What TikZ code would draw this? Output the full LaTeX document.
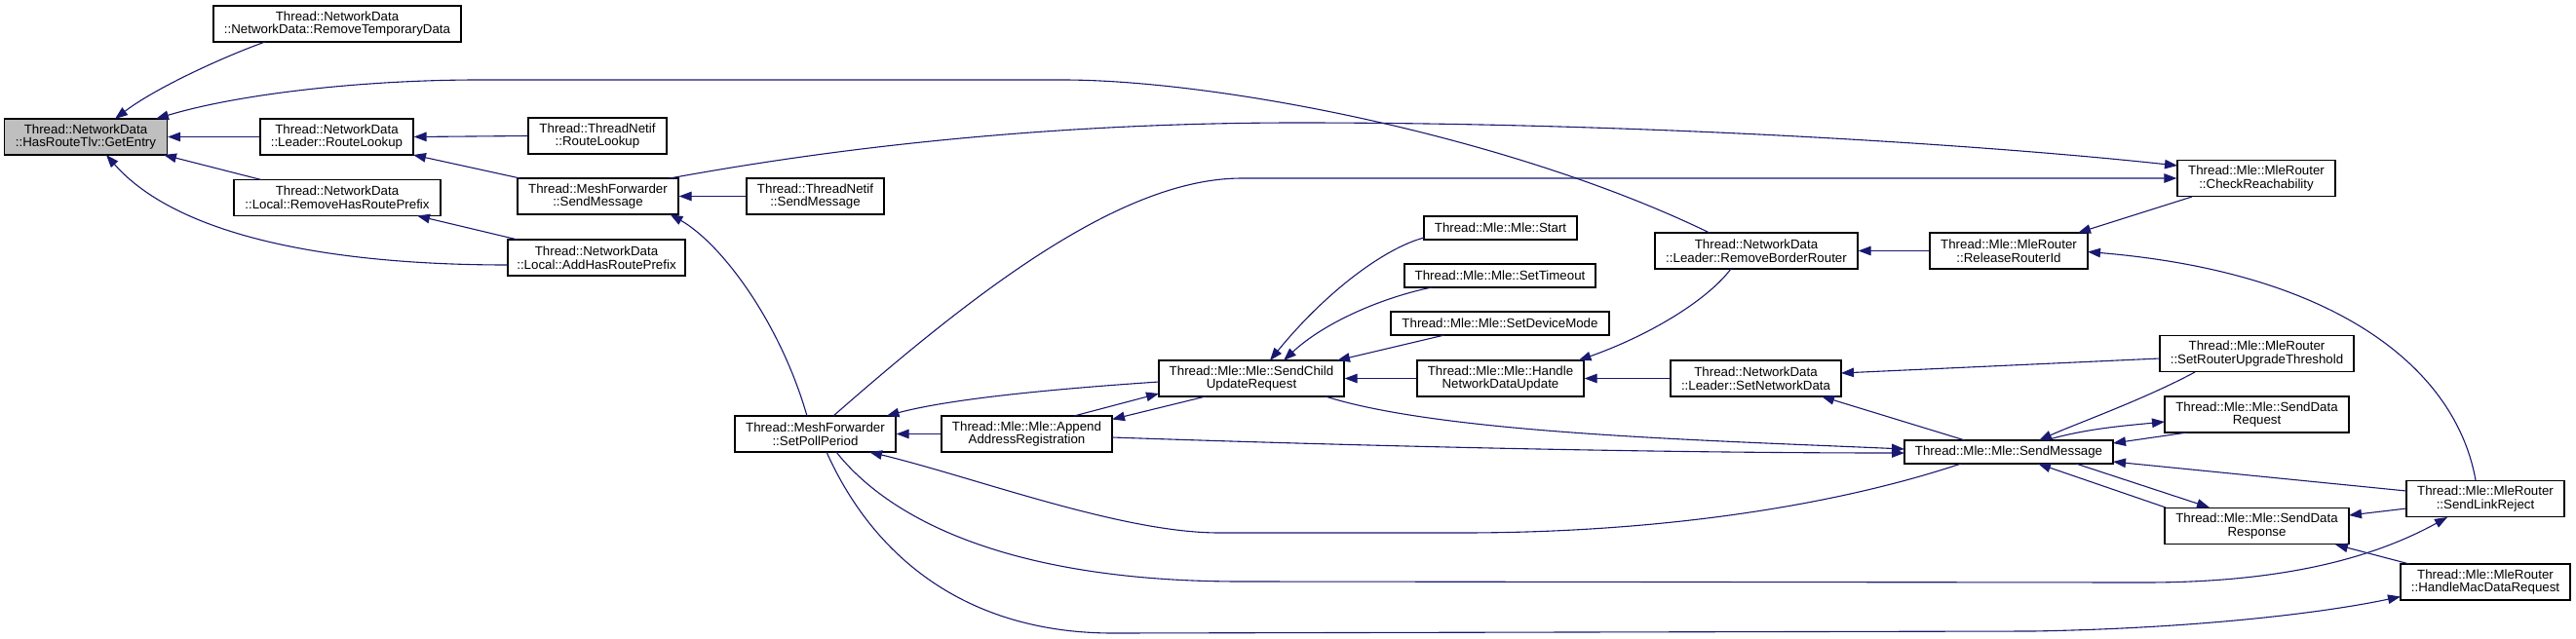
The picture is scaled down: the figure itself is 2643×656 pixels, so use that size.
\documentclass[tikz,border=0pt]{standalone}
\usepackage{fontspec}
\setmainfont{Liberation Sans}
\usetikzlibrary{arrows.meta,calc}
\definecolor{edgec}{HTML}{191970}
\definecolor{rootgray}{HTML}{BFBFBF}
\tikzset{
  cbox/.style={draw=black, line width=1.2pt, fill=white, inner sep=0pt, align=center,
    font=\fontsize{13.3}{13.8}\selectfont},
  nb/.style 2 args={cbox, minimum width=#1pt, minimum height=#2pt},
  link/.style={draw=edgec, line width=1.1pt, -{Triangle[length=13pt,width=9.5pt]}}
}
\begin{document}
\begin{tikzpicture}[x=1pt,y=-1pt]
\useasboundingbox (0,0) rectangle (2643,656);
% nodes
\node[nb={167}{37},fill=rootgray] (ge) at (88,140.5) {Thread::NetworkData\\::HasRouteTlv::GetEntry};
\node[nb={254}{37}] (rtd) at (346,24.5) {Thread::NetworkData\\::NetworkData::RemoveTemporaryData};
\node[nb={157}{37}] (lrl) at (345.5,140.5) {Thread::NetworkData\\::Leader::RouteLookup};
\node[nb={212}{37}] (rhrp) at (346,203) {Thread::NetworkData\\::Local::RemoveHasRoutePrefix};
\node[nb={142}{37}] (tnrl) at (613,139.5) {Thread::ThreadNetif\\::RouteLookup};
\node[nb={165}{37}] (mfsm) at (613.5,201.5) {Thread::MeshForwarder\\::SendMessage};
\node[nb={182}{37}] (ahrp) at (612,264.5) {Thread::NetworkData\\::Local::AddHasRoutePrefix};
\node[nb={141}{37}] (tnsm) at (836.5,201.5) {Thread::ThreadNetif\\::SendMessage};
\node[nb={165}{37}] (spp) at (836.5,445.5) {Thread::MeshForwarder\\::SetPollPeriod};
\node[nb={175}{37}] (aar) at (1053.5,445.5) {Thread::Mle::Mle::Append\\AddressRegistration};
\node[nb={190}{37}] (scur) at (1284,388.5) {Thread::Mle::Mle::SendChild\\UpdateRequest};
\node[nb={157}{24}] (start) at (1539.5,234) {Thread::Mle::Mle::Start};
\node[nb={196}{24}] (sto) at (1539,283) {Thread::Mle::Mle::SetTimeout};
\node[nb={224}{24}] (sdm) at (1539,332) {Thread::Mle::Mle::SetDeviceMode};
\node[nb={171}{37}] (hndu) at (1539.5,388.5) {Thread::Mle::Mle::Handle\\NetworkDataUpdate};
\node[nb={208}{37}] (rbr) at (1802,257.5) {Thread::NetworkData\\::Leader::RemoveBorderRouter};
\node[nb={175}{37}] (snd) at (1801.5,388.5) {Thread::NetworkData\\::Leader::SetNetworkData};
\node[nb={162}{37}] (rri) at (2061,257.5) {Thread::Mle::MleRouter\\::ReleaseRouterId};
\node[nb={214}{24}] (msm) at (2061,464) {Thread::Mle::Mle::SendMessage};
\node[nb={162}{37}] (cr) at (2315,183) {Thread::Mle::MleRouter\\::CheckReachability};
\node[nb={199}{37}] (srut) at (2315.5,363) {Thread::Mle::MleRouter\\::SetRouterUpgradeThreshold};
\node[nb={189}{37}] (sdreq) at (2315.5,425.5) {Thread::Mle::Mle::SendData\\Request};
\node[nb={189}{37}] (sdresp) at (2315.5,540) {Thread::Mle::Mle::SendData\\Response};
\node[nb={162}{37}] (slr) at (2550,512) {Thread::Mle::MleRouter\\::SendLinkReject};
\node[nb={174}{37}] (hmdr) at (2550,597.5) {Thread::Mle::MleRouter\\::HandleMacDataRequest};
% edges
\draw[link] ($(rtd)+(-74,18.5)$) .. controls (230,58) and (160,90) .. ($(ge)+(30,-18.5)$);
\draw[link] ($(rbr)+(-48,-18.5)$) .. controls (1550,140) and (1250,82) .. (1090,82) -- (491,82) .. controls (380,82) and (250,95) .. ($(ge)+(72,-18.5)$);
\draw[link] ($(spp)+(18.5,-18.5)$) .. controls (1000,300) and (1150,183) .. (1274,183) -- (cr.west);
\draw[link] ($(mfsm)+(73.5,-18.5)$) .. controls (760,170) and (1000,126) .. (1331,126) .. controls (1700,126) and (2050,150) .. ($(cr)+(-81,-13)$);
\draw[link] (lrl.west) -- (ge.east);
\draw[link] (tnrl.west) -- (lrl.east);
\draw[link] ($(mfsm)+(-80,-18.5)$) -- ($(lrl)+(78.5,18.5)$);
\draw[link] ($(rhrp)+(-78,-18.5)$) -- ($(ge)+(80,18.5)$);
\draw[link] ($(ahrp)+(-81,-18.5)$) -- ($(rhrp)+(82,18.5)$);
\draw[link] ($(ahrp)+(-91,7.5)$) .. controls (330,272) and (180,240) .. ($(ge)+(21,18.5)$);
\draw[link] (tnsm.west) -- (mfsm.east);
\draw[link] ($(spp)+(-8.5,-18.5)$) .. controls (800,330) and (740,250) .. ($(mfsm)+(74,18.5)$);
\draw[link] ($(scur)+(-95,3.5)$) .. controls (1100,398) and (980,408) .. ($(spp)+(73,-18.5)$);
\draw[link] (aar.west) -- (spp.east);
\draw[link] ($(aar)+(48.5,-18.5)$) -- ($(scur)+(-95,15.5)$);
\draw[link] ($(scur)+(-47,18.5)$) -- ($(aar)+(87.5,-15)$);
\draw[link] ($(start)+(-78.5,10)$) .. controls (1420,255) and (1360,300) .. ($(scur)+(19,-18.5)$);
\draw[link] ($(sto)+(-70,12)$) .. controls (1420,305) and (1360,330) .. ($(scur)+(33,-18.5)$);
\draw[link] ($(sdm)+(-57,12)$) -- ($(scur)+(88,-18.5)$);
\draw[link] (hndu.west) -- (scur.east);
\draw[link] ($(scur)+(76,18.5)$) .. controls (1480,445) and (1750,452) .. ($(msm)+(-107,-3)$);
\draw[link] ($(aar)+(87.5,3.5)$) .. controls (1400,458) and (1700,465) .. ($(msm)+(-107,1)$);
\draw[link] (snd.west) -- (hndu.east);
\draw[link] ($(rbr)+(-26,18.5)$) .. controls (1750,310) and (1690,345) .. ($(hndu)+(80,-18.5)$);
\draw[link] (rri.west) -- (rbr.east);
\draw[link] ($(cr)+(-66,19)$) -- ($(rri)+(71,-18.5)$);
\draw[link] ($(slr)+(-10,-19)$) .. controls (2520,380) and (2400,280) .. ($(rri)+(81,1)$);
\draw[link] ($(srut)+(-99.5,5)$) -- ($(snd)+(87.5,-5.5)$);
\draw[link] ($(msm)+(-45,-12)$) -- ($(snd)+(67.5,18.5)$);
\draw[link] ($(srut)+(-63.5,19)$) .. controls (2200,410) and (2130,435) .. ($(msm)+(31,-12)$);
\draw[link] ($(msm)+(38,-12)$) .. controls (2140,440) and (2180,437) .. ($(sdreq)+(-94.5,7.5)$);
\draw[link] ($(sdreq)+(-71.5,18.5)$) -- ($(msm)+(107,-9)$);
\draw[link] ($(slr)+(-81,-8)$) -- ($(msm)+(107,10)$);
\draw[link] ($(sdresp)+(-93.5,-19)$) -- ($(msm)+(30,12)$);
\draw[link] ($(msm)+(69,12)$) -- ($(sdresp)+(-48.5,-19)$);
\draw[link] ($(slr)+(-81,10)$) -- ($(sdresp)+(94.5,-11)$);
\draw[link] ($(hmdr)+(-78,-18.5)$) -- ($(sdresp)+(80.5,19)$);
\draw[link] ($(msm)+(-49,12)$) .. controls (1880,520) and (1700,547) .. (1500,547) -- (1251,547) .. controls (1150,547) and (1000,490) .. ($(spp)+(55.5,18.5)$);
\draw[link] ($(spp)+(21.5,18.5)$) .. controls (910,530) and (1030,597) .. (1274,597) -- (2200,598) .. controls (2350,598) and (2440,570) .. ($(slr)+(-39,19)$);
\draw[link] ($(spp)+(11.5,18.5)$) .. controls (900,580) and (1000,650) .. (1142,650) -- (2086,648) .. controls (2250,645) and (2380,630) .. ($(hmdr)+(-87,15)$);
\end{tikzpicture}
\end{document}
